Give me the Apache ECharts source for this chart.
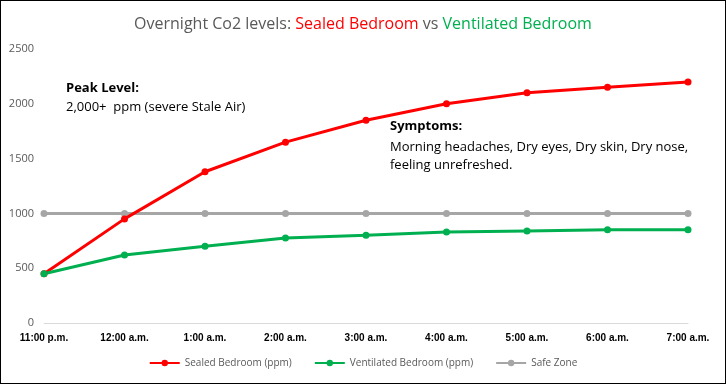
<!DOCTYPE html>
<html>
<head>
<meta charset="utf-8">
<script src="https://cdn.jsdelivr.net/npm/echarts@6/dist/echarts.min.js"></script>
<style>
  html, body { margin: 0; padding: 0; background: #fff; }
  #chart { width: 724px; height: 382px; border: 1px solid #000; }
</style>
</head>
<body>
<div id="chart"></div>
<script>
// 时间点
const times = ['11:00 p.m.', '12:00 a.m.', '1:00 a.m.', '2:00 a.m.', '3:00 a.m.', '4:00 a.m.', '5:00 a.m.', '6:00 a.m.', '7:00 a.m.'];
// CO2 数值 (ppm)
const sealed = [450, 950, 1380, 1650, 1850, 2000, 2100, 2150, 2200];
const ventilated = [450, 620, 700, 775, 800, 830, 840, 850, 850];
const safeZone = [1000, 1000, 1000, 1000, 1000, 1000, 1000, 1000, 1000];

const font = 'Open Sans';

const chart = echarts.init(document.getElementById('chart'));

const lineSeries = (name, data, color) => ({
  name: name,
  type: 'line',
  data: data,
  symbol: 'circle',
  symbolSize: 7,
  lineStyle: { width: 3, color: color },
  itemStyle: { color: color },
  z: name === 'Safe Zone' ? 1 : 2
});

chart.setOption({
  animation: false,
  title: {
    left: 'center',
    top: 10,
    text: '{g|Overnight Co2 levels: }{r|Sealed Bedroom}{g| vs }{v|Ventilated Bedroom}',
    textStyle: {
      fontWeight: 'normal',
      rich: {
        g: { color: '#595959', fontSize: 16, fontFamily: font, fontWeight: 'normal' },
        r: { color: '#ff0000', fontSize: 16, fontFamily: font, fontWeight: 'normal' },
        v: { color: '#00b050', fontSize: 16, fontFamily: font, fontWeight: 'normal' }
      }
    }
  },
  grid: { left: 43, right: 37, top: 48, bottom: 60 },
  legend: {
    bottom: 10,
    itemWidth: 30,
    itemHeight: 8,
    itemGap: 22,
    textStyle: { color: '#595959', fontSize: 10, fontFamily: font }
  },
  xAxis: {
    type: 'category',
    data: times,
    boundaryGap: false,
    axisLine: { lineStyle: { color: '#d9d9d9' } },
    axisTick: { show: false },
    axisLabel: { color: '#000', fontWeight: 'bold', fontSize: 10, fontFamily: 'Liberation Sans', margin: 10, interval: 0 }
  },
  yAxis: {
    type: 'value',
    min: 0,
    max: 2500,
    interval: 500,
    splitLine: { show: false },
    axisLabel: { color: '#595959', fontSize: 11, fontFamily: font, margin: 10, formatter: v => String(v) }
  },
  series: [
    lineSeries('Sealed Bedroom (ppm)', sealed, '#ff0000'),
    lineSeries('Ventilated Bedroom (ppm)', ventilated, '#00b050'),
    lineSeries('Safe Zone', safeZone, '#a6a6a6')
  ],
  graphic: [
    {
      type: 'text', left: 65, top: 81,
      style: { text: 'Peak Level:', font: 'bold 13px "Open Sans"', fill: '#000' }
    },
    {
      type: 'text', left: 65, top: 100,
      style: { text: '2,000+  ppm (severe Stale Air)', font: '13px "Open Sans"', fill: '#000' }
    },
    {
      type: 'text', left: 389, top: 119,
      style: { text: 'Symptoms:', font: 'bold 13px "Open Sans"', fill: '#000' }
    },
    {
      type: 'text', left: 389, top: 137,
      style: { text: 'Morning headaches, Dry eyes, Dry skin, Dry nose,\nfeeling unrefreshed.', font: '13px "Open Sans"', fill: '#000', lineHeight: 18 }
    }
  ]
});

window.addEventListener('resize', () => chart.resize());
</script>
</body>
</html>
